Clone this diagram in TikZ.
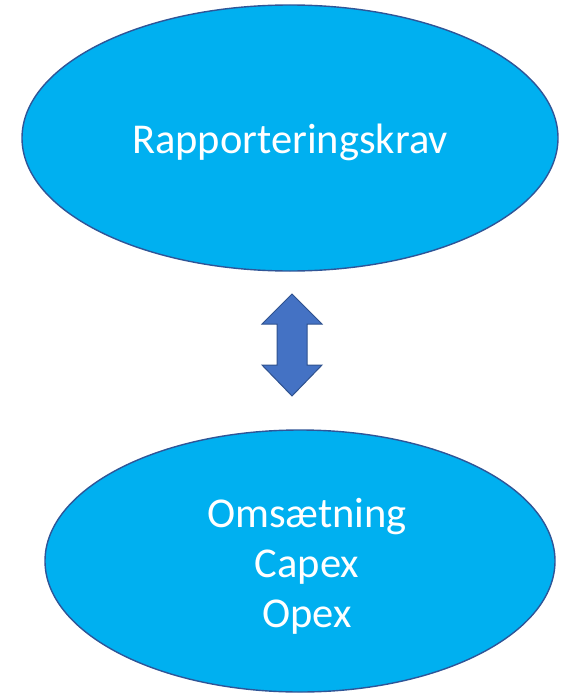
\documentclass[tikz,border=0pt]{standalone}
\usepackage{fontspec}
\setmainfont{Carlito}
\usetikzlibrary{shapes.geometric}
\definecolor{fillblue}{HTML}{00B0F0}
\definecolor{edgeblue}{HTML}{2F5597}
\definecolor{arrowfill}{HTML}{4472C4}
\definecolor{arrowedge}{HTML}{2F528F}
\tikzset{
  oval/.style={ellipse, draw=edgeblue, line width=1.4pt, fill=fillblue, inner sep=0pt},
  ovaltext/.style={text=white, inner sep=0pt, font=\fontsize{42.5}{50}\selectfont, align=center},
}
\begin{document}
\begin{tikzpicture}[x=1pt,y=-1pt]
\useasboundingbox (0,0) rectangle (582,693);
\node[oval, minimum width=536pt, minimum height=266pt] (top) at (290,138) {};
\node[oval, minimum width=510pt, minimum height=262pt] (bot) at (300,561) {};
\node[ovaltext] (toptext) at (290,142) {Rapporteringskrav};
\node[ovaltext] (bottext) at (307,566) {Omsætning\\Capex\\Opex};
\draw[fill=arrowfill, draw=arrowedge, line width=1pt, line join=miter]
  (292,294) -- (322,324) -- (307,324) -- (307,365) -- (322,365) -- (292,396)
  -- (262,365) -- (277,365) -- (277,324) -- (262,324) -- cycle;
\end{tikzpicture}
\end{document}
